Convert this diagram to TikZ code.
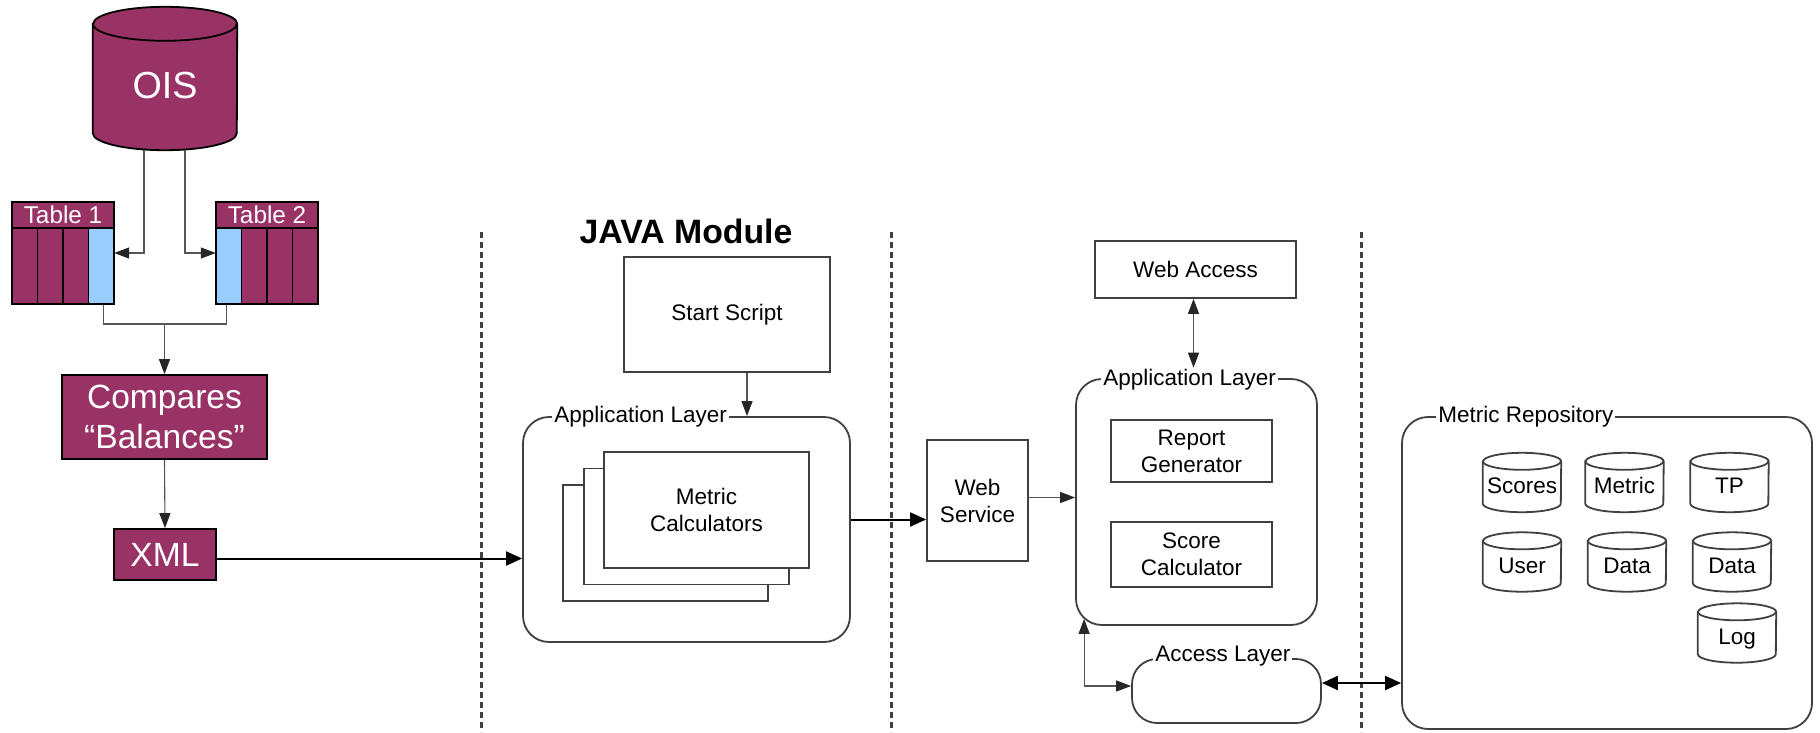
\documentclass[tikz,border=0pt]{standalone}
\usepackage{fontspec}
\setmainfont{Liberation Sans}
\usetikzlibrary{arrows.meta,backgrounds}
\definecolor{plum}{HTML}{993366}
\definecolor{skyb}{HTML}{99CCFF}
\definecolor{edge}{HTML}{404040}
\definecolor{wire}{HTML}{555555}
\newcommand\cylbg[4]{% node, half width, ry, style
  \path[#4] ([yshift=-#3]#1.north west) -- ([yshift=#3]#1.south west)
    arc[start angle=180, end angle=360, x radius=#2, y radius=#3]
    -- ([yshift=-#3]#1.north east)
    arc[start angle=0, end angle=180, x radius=#2, y radius=#3] -- cycle;
  \path[#4,fill=none] ([yshift=-#3]#1.north west)
    arc[start angle=180, end angle=360, x radius=#2, y radius=#3];
}
\tikzset{
  txt/.style={font=\fontsize{22.5}{27}\selectfont},
  box/.style={draw=edge, line width=1.8pt, fill=white, align=center, txt, inner sep=0pt},
  pbox/.style={draw=black, line width=1.8pt, fill=plum, text=white, align=center, inner sep=0pt},
  col/.style={draw=black, line width=1.8pt, fill=plum, minimum width=25.5pt, minimum height=76pt, inner sep=0pt},
  rbox/.style={draw=edge, line width=1.8pt, rounded corners=26pt, inner sep=0pt},
  lbl/.style={fill=white, inner xsep=2pt, inner ysep=1pt, anchor=base west, txt},
  smallcyl/.style={txt, minimum width=78pt, minimum height=59pt, inner sep=0pt, text height=22pt, text depth=0pt},
  tip/.tip={Triangle[length=15pt,width=11pt,color=black!85]},
  bigtip/.tip={Triangle[length=16pt,width=14pt,color=black]},
  conn/.style={draw=wire, line width=1.1pt, -tip},
  conn2/.style={draw=wire, line width=1.1pt, tip-tip},
  plain/.style={draw=wire, line width=1.1pt},
  bold/.style={draw=black, line width=2pt, -bigtip},
  bold2/.style={draw=black, line width=2pt, bigtip-bigtip},
  divider/.style={draw=edge, line width=3pt, dash pattern=on 6pt off 4pt},
}
\begin{document}
\begin{tikzpicture}[x=1pt,y=-1pt]
\useasboundingbox (0,0) rectangle (1820,732);
\begin{scope}[on background layer]
  \fill[white] (0,0) rectangle (1820,732);
\end{scope}

% dividers
\draw[divider] (481,232) -- (481,732);
\draw[divider] (891,232) -- (891,732);
\draw[divider] (1361,232) -- (1361,732);

% OIS database
\node[text=white, font=\fontsize{37.7}{40}\selectfont, minimum width=144pt, minimum height=143pt,
      inner sep=0pt, text height=40pt, text depth=0pt] (ois) at (165,78.5) {OIS};

% Table 1
\node[pbox, minimum width=102pt, minimum height=26pt, font=\fontsize{24.3}{26}\selectfont] (t1h) at (63,215) {Table 1};
\node[col] (t1a) at (24.75,266) {};
\node[col] (t1b) at (50.25,266) {};
\node[col] (t1c) at (75.75,266) {};
\node[col, fill=skyb] (t1d) at (101.25,266) {};
\node[minimum width=102pt, minimum height=102pt, inner sep=0pt] (t1) at (63,253) {};
% Table 2
\node[pbox, minimum width=102pt, minimum height=26pt, font=\fontsize{24.3}{26}\selectfont] (t2h) at (267,215) {Table 2};
\node[col, fill=skyb] (t2a) at (228.75,266) {};
\node[col] (t2b) at (254.25,266) {};
\node[col] (t2c) at (279.75,266) {};
\node[col] (t2d) at (305.25,266) {};
\node[minimum width=102pt, minimum height=102pt, inner sep=0pt] (t2) at (267,253) {};

% Compares and XML
\node[pbox, minimum width=205pt, minimum height=84pt, font=\fontsize{33.6}{40.5}\selectfont] (cmp) at (164.5,417) {Compares\\“Balances”};
\node[pbox, minimum width=102pt, minimum height=51pt, font=\fontsize{33.6}{36}\selectfont] (xml) at (165,554.5) {XML};

% JAVA module
\node[font=\fontsize{33.8}{36}\selectfont\bfseries, anchor=base] (java) at (686,243) {JAVA Module};
\node[box, minimum width=206pt, minimum height=115pt] (start) at (727,314.5) {Start Script};
\node[rbox, minimum width=327pt, minimum height=225pt] (appJ) at (686.5,529.5) {};
\node[lbl] (appJlbl) at ([xshift=30pt,yshift=-6pt]appJ.north west) {Application Layer};
\node[box, minimum width=205pt, minimum height=116pt] (mc3) at (665.5,543) {};
\node[box, minimum width=205pt, minimum height=116pt] (mc2) at (686.5,526.5) {};
\node[box, minimum width=205pt, minimum height=116pt] (mc1) at (706.5,510) {Metric\\Calculators};

% Web service and application layer
\node[box, minimum width=101pt, minimum height=121pt] (ws) at (977.5,500.5) {Web\\Service};
\node[box, minimum width=201pt, minimum height=57pt] (webacc) at (1195.5,269.5) {Web Access};
\node[rbox, minimum width=241pt, minimum height=246pt] (appR) at (1196.5,502) {};
\node[lbl] (appRlbl) at ([xshift=26pt,yshift=-7pt]appR.north west) {Application Layer};
\node[box, minimum width=161pt, minimum height=62pt] (rg) at (1191.5,451) {Report\\Generator};
\node[box, minimum width=161pt, minimum height=65pt] (sc) at (1191.5,554.5) {Score\\Calculator};
\node[rbox, rounded corners=25pt, minimum width=189pt, minimum height=64pt] (acc) at (1226.5,691) {};
\node[lbl] (acclbl) at ([xshift=22pt,yshift=-3pt]acc.north west) {Access Layer};

% Metric repository
\node[rbox, minimum width=410pt, minimum height=312pt] (repo) at (1607,573) {};
\node[lbl] (repolbl) at ([xshift=35pt,yshift=-6pt]repo.north west) {Metric Repository};
\node[smallcyl] (cs) at (1522,482.5) {Scores};
\node[smallcyl] (cm) at (1624.5,482.5) {Metric};
\node[smallcyl] (ctp) at (1729.5,482.5) {TP};
\node[smallcyl] (cu) at (1522,562) {User};
\node[smallcyl] (cd1) at (1627,562) {Data};
\node[smallcyl] (cd2) at (1732,562) {Data};
\node[smallcyl] (cl) at (1737,633) {Log};

\begin{scope}[on background layer]
  \cylbg{ois}{72pt}{17pt}{draw=black, line width=1.8pt, fill=plum}
  \foreach \c in {cs,cm,ctp,cu,cd1,cd2,cl}{
    \cylbg{\c}{39pt}{8.5pt}{draw=edge, line width=1.8pt, fill=white}
  }
\end{scope}

% connectors
\coordinate (merge) at (164.5,324);
\draw[conn] ([xshift=-21pt]ois.south) |- (t1.east);
\draw[conn] ([xshift=20pt]ois.south) |- (t2.west);
\draw[plain] ([xshift=2pt]t1d.south) |- (merge) -| ([xshift=-2.5pt]t2a.south);
\draw[conn] (merge) -- (cmp.north);
\draw[conn] (cmp.south) -- (xml.north);
\draw[bold] ([yshift=-4pt]xml.east) -- ([yshift=-4pt]xml.east -| appJ.west);
\draw[conn] ([xshift=20pt]start.south) -- ([xshift=20pt]start.south |- appJ.north);
\draw[bold] ([yshift=-19pt]ws.west -| appJ.east) -- ([yshift=-19pt]ws.west);
\draw[conn] ([yshift=3pt]ws.east) -- ([yshift=3pt]ws.east -| appR.west);
\draw[conn2] ([xshift=-2pt]webacc.south) -- ([xshift=-2pt]webacc.south |- appRlbl.north);
\draw[conn2] ([xshift=9pt,yshift=7pt]appR.south west) |- ([yshift=5pt]acc.west);
\draw[bold2] ([yshift=8pt]acc.east) -- ([yshift=8pt]acc.east -| repo.west);
\end{tikzpicture}
\end{document}
